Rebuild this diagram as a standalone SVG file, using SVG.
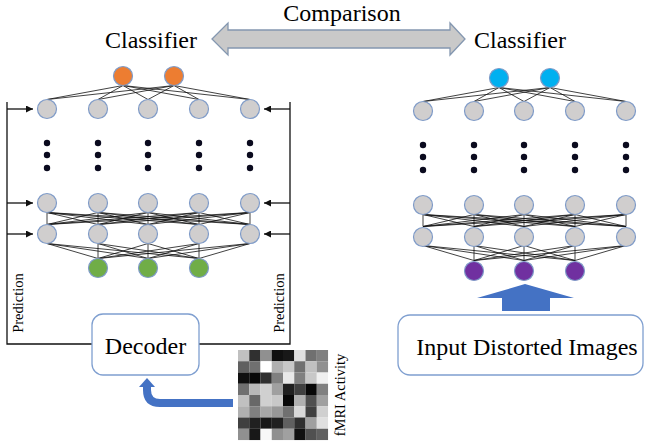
<svg xmlns="http://www.w3.org/2000/svg" width="645" height="445" viewBox="0 0 645 445">
<defs>
<style>
.t{font-family:"Liberation Serif","Times New Roman",serif;fill:#000}
.g{fill:#d0cece;stroke:#7f9bc8;stroke-width:1.2}
.o{fill:#ed7d31;stroke:#7f9bc8;stroke-width:1.2}
.gr{fill:#70ad47;stroke:#7f9bc8;stroke-width:1.2}
.c{fill:#00b0f0;stroke:#7f9bc8;stroke-width:1.2}
.p{fill:#7030a0;stroke:#7f9bc8;stroke-width:1.2}
.d{fill:#0a0a1e}
.e{fill:none;stroke:#111;stroke-width:0.8}
.f{fill:none;stroke:#111;stroke-width:1.3}
.box{fill:#fff;stroke:#7f9fd0;stroke-width:1.3}
</style>
<marker id="ah" viewBox="0 0 10 10" refX="10" refY="5" markerWidth="7" markerHeight="7" markerUnits="userSpaceOnUse" orient="auto">
<path d="M0 0L10 5L0 10z" fill="#111"/>
</marker>
</defs>
<rect width="645" height="445" fill="#fff"/>

<g id="connectors">
<path class="e" d="M123 85.5L47 99.5M123 85.5L98 99.5M123 85.5L148 99.5M123 85.5L199 99.5M123 85.5L250 99.5M174 85.5L47 99.5M174 85.5L98 99.5M174 85.5L148 99.5M174 85.5L199 99.5M174 85.5L250 99.5"/>
<path class="e" d="M47 212.5L47 224.5M47 212.5L98 224.5M47 212.5L148 224.5M47 212.5L199 224.5M47 212.5L250 224.5M98 212.5L47 224.5M98 212.5L98 224.5M98 212.5L148 224.5M98 212.5L199 224.5M98 212.5L250 224.5M148 212.5L47 224.5M148 212.5L98 224.5M148 212.5L148 224.5M148 212.5L199 224.5M148 212.5L250 224.5M199 212.5L47 224.5M199 212.5L98 224.5M199 212.5L148 224.5M199 212.5L199 224.5M199 212.5L250 224.5M250 212.5L47 224.5M250 212.5L98 224.5M250 212.5L148 224.5M250 212.5L199 224.5M250 212.5L250 224.5"/>
<path class="e" d="M47 243.5L98 258.5M47 243.5L148 258.5M47 243.5L199 258.5M98 243.5L98 258.5M98 243.5L148 258.5M98 243.5L199 258.5M148 243.5L98 258.5M148 243.5L148 258.5M148 243.5L199 258.5M199 243.5L98 258.5M199 243.5L148 258.5M199 243.5L199 258.5M250 243.5L98 258.5M250 243.5L148 258.5M250 243.5L199 258.5"/>
<path class="e" d="M499 87.5L423 101.5M499 87.5L474 101.5M499 87.5L524 101.5M499 87.5L575 101.5M499 87.5L626 101.5M550 87.5L423 101.5M550 87.5L474 101.5M550 87.5L524 101.5M550 87.5L575 101.5M550 87.5L626 101.5"/>
<path class="e" d="M423 214.5L423 226.5M423 214.5L474 226.5M423 214.5L524 226.5M423 214.5L575 226.5M423 214.5L626 226.5M474 214.5L423 226.5M474 214.5L474 226.5M474 214.5L524 226.5M474 214.5L575 226.5M474 214.5L626 226.5M524 214.5L423 226.5M524 214.5L474 226.5M524 214.5L524 226.5M524 214.5L575 226.5M524 214.5L626 226.5M575 214.5L423 226.5M575 214.5L474 226.5M575 214.5L524 226.5M575 214.5L575 226.5M575 214.5L626 226.5M626 214.5L423 226.5M626 214.5L474 226.5M626 214.5L524 226.5M626 214.5L575 226.5M626 214.5L626 226.5"/>
<path class="e" d="M423 245.5L474 260.5M423 245.5L524 260.5M423 245.5L575 260.5M474 245.5L474 260.5M474 245.5L524 260.5M474 245.5L575 260.5M524 245.5L474 260.5M524 245.5L524 260.5M524 245.5L575 260.5M575 245.5L474 260.5M575 245.5L524 260.5M575 245.5L575 260.5M626 245.5L474 260.5M626 245.5L524 260.5M626 245.5L575 260.5"/>
<path class="f" d="M92 344H7V102M199 344H290V102"/>
<path class="f" marker-end="url(#ah)" d="M7 109H33"/>
<path class="f" marker-end="url(#ah)" d="M7 203H33"/>
<path class="f" marker-end="url(#ah)" d="M7 234H33"/>
<path class="f" marker-end="url(#ah)" d="M290 109H264"/>
<path class="f" marker-end="url(#ah)" d="M290 203H264"/>
<path class="f" marker-end="url(#ah)" d="M290 234H264"/>
<path d="M233 403H160Q147 403 147 390V386" fill="none" stroke="#4472c4" stroke-width="8"/>
<path d="M139 387L147 378L155 387z" fill="#4472c4"/>
<path d="M525 284L574 298H550V311H502V298H477z" fill="#4472c4"/>
<path d="M212 39L228 23V30H450V23L465 39L450 55V48H228V55z" fill="#c9c9c9" stroke="#8497b0" stroke-width="1.3"/>
</g>

<g id="left-network">
<circle class="o" cx="123" cy="76" r="9.5"/><circle class="o" cx="174" cy="76" r="9.5"/>
<circle class="g" cx="47" cy="109" r="9.5"/><circle class="g" cx="98" cy="109" r="9.5"/><circle class="g" cx="148" cy="109" r="9.5"/><circle class="g" cx="199" cy="109" r="9.5"/><circle class="g" cx="250" cy="109" r="9.5"/>
<g class="d">
<circle cx="47" cy="143" r="3.2"/><circle cx="47" cy="155" r="3.2"/><circle cx="47" cy="168" r="3.2"/>
<circle cx="98" cy="143" r="3.2"/><circle cx="98" cy="155" r="3.2"/><circle cx="98" cy="168" r="3.2"/>
<circle cx="148" cy="143" r="3.2"/><circle cx="148" cy="155" r="3.2"/><circle cx="148" cy="168" r="3.2"/>
<circle cx="199" cy="143" r="3.2"/><circle cx="199" cy="155" r="3.2"/><circle cx="199" cy="168" r="3.2"/>
<circle cx="250" cy="143" r="3.2"/><circle cx="250" cy="155" r="3.2"/><circle cx="250" cy="168" r="3.2"/>
</g>
<circle class="g" cx="47" cy="203" r="9.5"/><circle class="g" cx="98" cy="203" r="9.5"/><circle class="g" cx="148" cy="203" r="9.5"/><circle class="g" cx="199" cy="203" r="9.5"/><circle class="g" cx="250" cy="203" r="9.5"/>
<circle class="g" cx="47" cy="234" r="9.5"/><circle class="g" cx="98" cy="234" r="9.5"/><circle class="g" cx="148" cy="234" r="9.5"/><circle class="g" cx="199" cy="234" r="9.5"/><circle class="g" cx="250" cy="234" r="9.5"/>
<circle class="gr" cx="98" cy="268" r="9.5"/><circle class="gr" cx="148" cy="268" r="9.5"/><circle class="gr" cx="199" cy="268" r="9.5"/>
</g>

<g id="right-network">
<circle class="c" cx="499" cy="78" r="9.5"/><circle class="c" cx="550" cy="78" r="9.5"/>
<circle class="g" cx="423" cy="111" r="9.5"/><circle class="g" cx="474" cy="111" r="9.5"/><circle class="g" cx="524" cy="111" r="9.5"/><circle class="g" cx="575" cy="111" r="9.5"/><circle class="g" cx="626" cy="111" r="9.5"/>
<g class="d">
<circle cx="423" cy="145" r="3.2"/><circle cx="423" cy="157" r="3.2"/><circle cx="423" cy="170" r="3.2"/>
<circle cx="474" cy="145" r="3.2"/><circle cx="474" cy="157" r="3.2"/><circle cx="474" cy="170" r="3.2"/>
<circle cx="524" cy="145" r="3.2"/><circle cx="524" cy="157" r="3.2"/><circle cx="524" cy="170" r="3.2"/>
<circle cx="575" cy="145" r="3.2"/><circle cx="575" cy="157" r="3.2"/><circle cx="575" cy="170" r="3.2"/>
<circle cx="626" cy="145" r="3.2"/><circle cx="626" cy="157" r="3.2"/><circle cx="626" cy="170" r="3.2"/>
</g>
<circle class="g" cx="423" cy="205" r="9.5"/><circle class="g" cx="474" cy="205" r="9.5"/><circle class="g" cx="524" cy="205" r="9.5"/><circle class="g" cx="575" cy="205" r="9.5"/><circle class="g" cx="626" cy="205" r="9.5"/>
<circle class="g" cx="423" cy="237" r="9.5"/><circle class="g" cx="474" cy="237" r="9.5"/><circle class="g" cx="524" cy="237" r="9.5"/><circle class="g" cx="575" cy="237" r="9.5"/><circle class="g" cx="626" cy="237" r="9.5"/>
<circle class="p" cx="474" cy="271" r="9.5"/><circle class="p" cx="524" cy="271" r="9.5"/><circle class="p" cx="575" cy="271" r="9.5"/>
</g>

<g id="decoder">
<rect class="box" x="92" y="314" width="107" height="61" rx="11"/>
<text class="t" x="145.5" y="354" font-size="24" text-anchor="middle">Decoder</text>
</g>

<g id="input-images">
<rect class="box" x="398" y="315" width="245" height="60" rx="12"/>
<text class="t" x="527" y="355" font-size="24" text-anchor="middle">Input Distorted Images</text>
</g>

<g id="fmri">
<g transform="translate(238 350)">
<rect x="0" y="0" width="11.3" height="11.3" fill="#c0c0c0"/><rect x="11.25" y="0" width="11.3" height="11.3" fill="#303030"/><rect x="22.5" y="0" width="11.3" height="11.3" fill="#909090"/><rect x="33.75" y="0" width="11.3" height="11.3" fill="#101010"/><rect x="45" y="0" width="11.3" height="11.3" fill="#181818"/><rect x="56.25" y="0" width="11.3" height="11.3" fill="#e0e0e0"/><rect x="67.5" y="0" width="11.3" height="11.3" fill="#707070"/><rect x="78.75" y="0" width="11.3" height="11.3" fill="#808080"/>
<rect x="0" y="11.25" width="11.3" height="11.3" fill="#606060"/><rect x="11.25" y="11.25" width="11.3" height="11.3" fill="#707070"/><rect x="22.5" y="11.25" width="11.3" height="11.3" fill="#ffffff"/><rect x="33.75" y="11.25" width="11.3" height="11.3" fill="#b0b0b0"/><rect x="45" y="11.25" width="11.3" height="11.3" fill="#c8c8c8"/><rect x="56.25" y="11.25" width="11.3" height="11.3" fill="#707070"/><rect x="67.5" y="11.25" width="11.3" height="11.3" fill="#c0c0c0"/><rect x="78.75" y="11.25" width="11.3" height="11.3" fill="#909090"/>
<rect x="0" y="22.5" width="11.3" height="11.3" fill="#101010"/><rect x="11.25" y="22.5" width="11.3" height="11.3" fill="#080808"/><rect x="22.5" y="22.5" width="11.3" height="11.3" fill="#303030"/><rect x="33.75" y="22.5" width="11.3" height="11.3" fill="#808080"/><rect x="45" y="22.5" width="11.3" height="11.3" fill="#e8e8e8"/><rect x="56.25" y="22.5" width="11.3" height="11.3" fill="#808080"/><rect x="67.5" y="22.5" width="11.3" height="11.3" fill="#c8c8c8"/><rect x="78.75" y="22.5" width="11.3" height="11.3" fill="#f0f0f0"/>
<rect x="0" y="33.75" width="11.3" height="11.3" fill="#707070"/><rect x="11.25" y="33.75" width="11.3" height="11.3" fill="#b8b8b8"/><rect x="22.5" y="33.75" width="11.3" height="11.3" fill="#d0d0d0"/><rect x="33.75" y="33.75" width="11.3" height="11.3" fill="#a0a0a0"/><rect x="45" y="33.75" width="11.3" height="11.3" fill="#202020"/><rect x="56.25" y="33.75" width="11.3" height="11.3" fill="#404040"/><rect x="67.5" y="33.75" width="11.3" height="11.3" fill="#080808"/><rect x="78.75" y="33.75" width="11.3" height="11.3" fill="#808080"/>
<rect x="0" y="45" width="11.3" height="11.3" fill="#c0c0c0"/><rect x="11.25" y="45" width="11.3" height="11.3" fill="#686868"/><rect x="22.5" y="45" width="11.3" height="11.3" fill="#d0d0d0"/><rect x="33.75" y="45" width="11.3" height="11.3" fill="#c8c8c8"/><rect x="45" y="45" width="11.3" height="11.3" fill="#080808"/><rect x="56.25" y="45" width="11.3" height="11.3" fill="#b0b0b0"/><rect x="67.5" y="45" width="11.3" height="11.3" fill="#505050"/><rect x="78.75" y="45" width="11.3" height="11.3" fill="#a0a0a0"/>
<rect x="0" y="56.25" width="11.3" height="11.3" fill="#b0b0b0"/><rect x="11.25" y="56.25" width="11.3" height="11.3" fill="#808080"/><rect x="22.5" y="56.25" width="11.3" height="11.3" fill="#a8a8a8"/><rect x="33.75" y="56.25" width="11.3" height="11.3" fill="#989898"/><rect x="45" y="56.25" width="11.3" height="11.3" fill="#707070"/><rect x="56.25" y="56.25" width="11.3" height="11.3" fill="#d8d8d8"/><rect x="67.5" y="56.25" width="11.3" height="11.3" fill="#404040"/><rect x="78.75" y="56.25" width="11.3" height="11.3" fill="#d0d0d0"/>
<rect x="0" y="67.5" width="11.3" height="11.3" fill="#404040"/><rect x="11.25" y="67.5" width="11.3" height="11.3" fill="#202020"/><rect x="22.5" y="67.5" width="11.3" height="11.3" fill="#181818"/><rect x="33.75" y="67.5" width="11.3" height="11.3" fill="#202020"/><rect x="45" y="67.5" width="11.3" height="11.3" fill="#606060"/><rect x="56.25" y="67.5" width="11.3" height="11.3" fill="#303030"/><rect x="67.5" y="67.5" width="11.3" height="11.3" fill="#a0a0a0"/><rect x="78.75" y="67.5" width="11.3" height="11.3" fill="#e0e0e0"/>
<rect x="0" y="78.75" width="11.3" height="11.3" fill="#909090"/><rect x="11.25" y="78.75" width="11.3" height="11.3" fill="#181818"/><rect x="22.5" y="78.75" width="11.3" height="11.3" fill="#f8f8f8"/><rect x="33.75" y="78.75" width="11.3" height="11.3" fill="#909090"/><rect x="45" y="78.75" width="11.3" height="11.3" fill="#a0a0a0"/><rect x="56.25" y="78.75" width="11.3" height="11.3" fill="#101010"/><rect x="67.5" y="78.75" width="11.3" height="11.3" fill="#505050"/><rect x="78.75" y="78.75" width="11.3" height="11.3" fill="#606060"/>
</g>
<text class="t" transform="translate(345 395) rotate(-90)" font-size="14.5" text-anchor="middle">fMRI Activity</text>
</g>

<g id="labels">
<text class="t" x="151" y="48" font-size="24" text-anchor="middle">Classifier</text>
<text class="t" x="520" y="48" font-size="24" text-anchor="middle">Classifier</text>
<text class="t" x="342" y="21" font-size="24" text-anchor="middle">Comparison</text>
<text class="t" transform="translate(23 303) rotate(-90)" font-size="14.5" text-anchor="middle">Prediction</text>
<text class="t" transform="translate(284 303) rotate(-90)" font-size="14.5" text-anchor="middle">Prediction</text>
</g>
</svg>
